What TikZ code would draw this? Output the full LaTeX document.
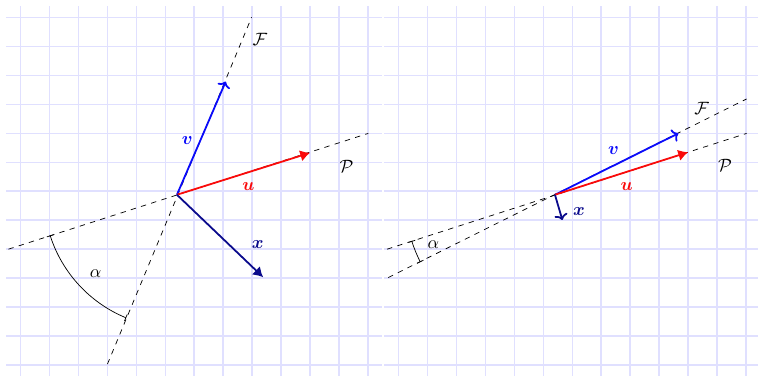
\documentclass[tikz,border=0pt]{standalone}
\usepackage{amsmath}
\usetikzlibrary{arrows.meta,calc}
\definecolor{vecV}{RGB}{10,10,250}
\definecolor{vecU}{RGB}{250,10,10}
\definecolor{vecX}{RGB}{10,10,140}
\definecolor{gridLav}{RGB}{224,224,255}

\begin{document}
\begin{tikzpicture}[x=0.57cm,y=0.57cm,
    gridlines/.style={gridLav, line width=0.9pt},
    axisline/.style={dashed, thin},
    vecarrow/.style={line width=1pt},
    openhead/.style={-{To[length=3.2pt,width=7.5pt]}},
    fullhead/.style={-{Latex[length=5.5pt,width=6.5pt]}},
    anglebar/.style={{Bar[width=4pt]}-{Bar[width=4pt]}}]
  \useasboundingbox (-6.712,-6.38) rectangle (19.474,6.608);

  % Wide angle between the planes
  \begin{scope}[xshift=0cm]
    \draw[gridlines, step=1] (-6.5,-6.4) grid (6.5,6.4);
    \coordinate (O) at (-0.6,-0.12);
    \coordinate (Pa) at (-6.42,-2.0);
    \coordinate (Pb) at (6.01,2.0);
    \coordinate (Fa) at (-3.0,-5.97);
    \coordinate (Fb) at (1.98,6.01);
    \coordinate (V) at (1.085,3.79);
    \coordinate (U) at (4.0,1.33);
    \coordinate (X) at (2.38,-2.97);
    \draw[axisline] (Pa) -- (Pb);
    \draw[axisline] (Fa) -- (Fb);
    \draw[anglebar] ($(O)+(197.8:4.6)$) arc[start angle=197.8, end angle=247.6, radius=4.6];
    \draw[vecarrow, vecV, openhead] (O) -- (V);
    \draw[vecarrow, vecU, fullhead] (O) -- (U);
    \draw[vecarrow, vecX, fullhead] (O) -- (X);
    \node (alpha) at (-3.41,-2.83) {$\alpha$};
    \node (labF) at (2.27,5.23) {$\mathcal{F}$};
    \node (labP) at (5.26,0.85) {$\mathcal{P}$};
    \node[vecV] (labV) at (-0.24,1.74) {$\boldsymbol{v}$};
    \node[vecU] (labU) at (1.87,0.18) {$\boldsymbol{u}$};
    \node[vecX] (labX) at (2.19,-1.83) {$\boldsymbol{x}$};
  \end{scope}

  % Narrow angle between the planes
  \begin{scope}[xshift=13.06*0.57cm]
    \draw[gridlines, step=1] (-6.5,-6.4) grid (6.41,6.4);
    \coordinate (O) at (-0.6,-0.12);
    \coordinate (Pa) at (-6.4,-2.0);
    \coordinate (Pb) at (6.02,2.0);
    \coordinate (Fa) at (-6.36,-2.98);
    \coordinate (Fb) at (6.02,3.19);
    \coordinate (V) at (3.66,2.0);
    \coordinate (U) at (4.0,1.35);
    \coordinate (X) at (-0.345,-0.99);
    \draw[axisline] (Pa) -- (Pb);
    \draw[axisline] (Fa) -- (Fb);
    \draw[anglebar] ($(O)+(197.9:5.2)$) arc[start angle=197.9, end angle=206.6, radius=5.2];
    \draw[vecarrow, vecV, openhead] (O) -- (V);
    \draw[vecarrow, vecU, fullhead] (O) -- (U);
    \draw[vecarrow, vecX, openhead] (O) -- (X);
    \node (alpha) at (-4.80,-1.83) {$\alpha$};
    \node (labF) at (4.47,2.87) {$\mathcal{F}$};
    \node (labP) at (5.28,0.88) {$\mathcal{P}$};
    \node[vecV] (labV) at (1.42,1.40) {$\boldsymbol{v}$};
    \node[vecU] (labU) at (1.88,0.18) {$\boldsymbol{u}$};
    \node[vecX] (labX) at (0.23,-0.71) {$\boldsymbol{x}$};
  \end{scope}
\end{tikzpicture}
\end{document}
